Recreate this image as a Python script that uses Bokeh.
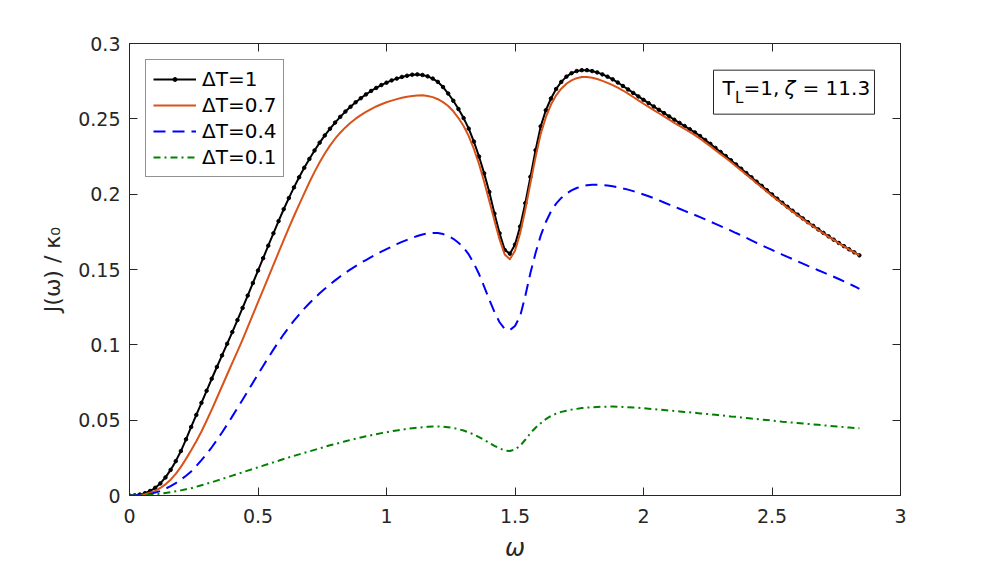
from bokeh.plotting import figure
from bokeh.models import (Range1d, LinearAxis, FixedTicker, Legend, LegendItem,
                          BoxAnnotation, Label)
from bokeh.embed import file_html
from bokeh.resources import INLINE

# frequency grid, step 0.02 from 0 to 2.84
omega = [round(0.02 * i, 2) for i in range(143)]

# J(omega)/kappa_0 for each temperature bias
j_dt_1 = [
    0.0000, 0.0001, 0.0006, 0.0015, 0.0030, 0.0051, 0.0080, 0.0120, 0.0170, 0.0228,
    0.0295, 0.0373, 0.0455, 0.0535, 0.0615, 0.0695, 0.0775, 0.0853, 0.0930, 0.1007,
    0.1085, 0.1164, 0.1245, 0.1327, 0.1410, 0.1493, 0.1575, 0.1658, 0.1740, 0.1821,
    0.1900, 0.1974, 0.2045, 0.2112, 0.2175, 0.2234, 0.2290, 0.2342, 0.2390, 0.2434,
    0.2475, 0.2513, 0.2548, 0.2580, 0.2610, 0.2637, 0.2662, 0.2685, 0.2705, 0.2724,
    0.2740, 0.2755, 0.2767, 0.2778, 0.2786, 0.2793, 0.2795, 0.2791, 0.2782, 0.2767,
    0.2745, 0.2711, 0.2668, 0.2620, 0.2565, 0.2505, 0.2435, 0.2349, 0.2250, 0.2138,
    0.2015, 0.1871, 0.1740, 0.1630, 0.1605, 0.1665, 0.1785, 0.1940, 0.2115, 0.2292,
    0.2450, 0.2557, 0.2635, 0.2698, 0.2745, 0.2780, 0.2803, 0.2817, 0.2823, 0.2823,
    0.2817, 0.2808, 0.2795, 0.2780, 0.2762, 0.2741, 0.2718, 0.2695, 0.2672, 0.2649,
    0.2626, 0.2604, 0.2582, 0.2560, 0.2538, 0.2516, 0.2494, 0.2473, 0.2452, 0.2431,
    0.2410, 0.2386, 0.2360, 0.2334, 0.2307, 0.2280, 0.2253, 0.2225, 0.2197, 0.2169,
    0.2140, 0.2112, 0.2083, 0.2055, 0.2026, 0.1998, 0.1970, 0.1943, 0.1916, 0.1890,
    0.1864, 0.1839, 0.1814, 0.1790, 0.1766, 0.1743, 0.1720, 0.1698, 0.1676, 0.1655,
    0.1634, 0.1614, 0.1594,
]
j_dt_07 = [
    0.0000, 0.0001, 0.0004, 0.0009, 0.0018, 0.0031, 0.0050, 0.0074, 0.0105, 0.0144,
    0.0190, 0.0243, 0.0300, 0.0360, 0.0425, 0.0496, 0.0570, 0.0647, 0.0725, 0.0803,
    0.0880, 0.0957, 0.1035, 0.1117, 0.1200, 0.1283, 0.1365, 0.1448, 0.1530, 0.1613,
    0.1695, 0.1776, 0.1855, 0.1931, 0.2005, 0.2079, 0.2148, 0.2212, 0.2270, 0.2322,
    0.2368, 0.2408, 0.2443, 0.2474, 0.2501, 0.2525, 0.2546, 0.2565, 0.2582, 0.2597,
    0.2610, 0.2621, 0.2631, 0.2640, 0.2647, 0.2652, 0.2655, 0.2656, 0.2652, 0.2644,
    0.2630, 0.2611, 0.2585, 0.2550, 0.2505, 0.2452, 0.2385, 0.2300, 0.2200, 0.2082,
    0.1955, 0.1826, 0.1700, 0.1600, 0.1568, 0.1625, 0.1740, 0.1897, 0.2074, 0.2246,
    0.2400, 0.2511, 0.2595, 0.2656, 0.2700, 0.2733, 0.2755, 0.2770, 0.2778, 0.2778,
    0.2773, 0.2764, 0.2752, 0.2739, 0.2724, 0.2707, 0.2688, 0.2667, 0.2645, 0.2622,
    0.2600, 0.2579, 0.2558, 0.2537, 0.2516, 0.2495, 0.2473, 0.2453, 0.2433, 0.2413,
    0.2392, 0.2369, 0.2344, 0.2319, 0.2292, 0.2266, 0.2240, 0.2213, 0.2185, 0.2158,
    0.2129, 0.2102, 0.2073, 0.2046, 0.2017, 0.1990, 0.1962, 0.1936, 0.1909, 0.1884,
    0.1858, 0.1834, 0.1809, 0.1786, 0.1762, 0.1740, 0.1717, 0.1696, 0.1674, 0.1654,
    0.1633, 0.1614, 0.1594,
]
j_dt_04 = [
    0.0000, 0.0001, 0.0002, 0.0005, 0.0010, 0.0019, 0.0030, 0.0045, 0.0062, 0.0082,
    0.0105, 0.0131, 0.0160, 0.0196, 0.0235, 0.0276, 0.0320, 0.0368, 0.0418, 0.0471,
    0.0525, 0.0580, 0.0635, 0.0691, 0.0748, 0.0804, 0.0860, 0.0915, 0.0968, 0.1020,
    0.1070, 0.1116, 0.1160, 0.1201, 0.1240, 0.1276, 0.1310, 0.1342, 0.1372, 0.1401,
    0.1428, 0.1454, 0.1478, 0.1501, 0.1523, 0.1544, 0.1563, 0.1582, 0.1600, 0.1618,
    0.1635, 0.1652, 0.1668, 0.1683, 0.1697, 0.1710, 0.1722, 0.1732, 0.1740, 0.1743,
    0.1742, 0.1735, 0.1722, 0.1704, 0.1678, 0.1644, 0.1600, 0.1541, 0.1470, 0.1386,
    0.1300, 0.1218, 0.1150, 0.1105, 0.1098, 0.1125, 0.1190, 0.1324, 0.1477, 0.1609,
    0.1725, 0.1815, 0.1885, 0.1937, 0.1975, 0.2004, 0.2025, 0.2041, 0.2052, 0.2059,
    0.2062, 0.2062, 0.2060, 0.2057, 0.2052, 0.2046, 0.2038, 0.2030, 0.2020, 0.2009,
    0.1998, 0.1986, 0.1973, 0.1959, 0.1945, 0.1931, 0.1917, 0.1903, 0.1889, 0.1875,
    0.1862, 0.1848, 0.1833, 0.1818, 0.1803, 0.1788, 0.1773, 0.1758, 0.1742, 0.1727,
    0.1711, 0.1694, 0.1676, 0.1661, 0.1645, 0.1630, 0.1614, 0.1599, 0.1584, 0.1569,
    0.1554, 0.1539, 0.1524, 0.1510, 0.1495, 0.1481, 0.1466, 0.1452, 0.1437, 0.1421,
    0.1405, 0.1389, 0.1372,
]
j_dt_01 = [
    0.0000, 0.0000, 0.0001, 0.0003, 0.0005, 0.0008, 0.0012, 0.0017, 0.0022, 0.0028,
    0.0034, 0.0041, 0.0048, 0.0058, 0.0068, 0.0078, 0.0088, 0.0099, 0.0110, 0.0121,
    0.0132, 0.0143, 0.0154, 0.0165, 0.0176, 0.0187, 0.0198, 0.0209, 0.0220, 0.0231,
    0.0242, 0.0253, 0.0263, 0.0273, 0.0283, 0.0293, 0.0303, 0.0313, 0.0323, 0.0333,
    0.0342, 0.0351, 0.0360, 0.0369, 0.0377, 0.0385, 0.0393, 0.0400, 0.0407, 0.0414,
    0.0420, 0.0426, 0.0432, 0.0437, 0.0442, 0.0446, 0.0450, 0.0453, 0.0456, 0.0458,
    0.0458, 0.0456, 0.0453, 0.0448, 0.0441, 0.0431, 0.0419, 0.0404, 0.0388, 0.0369,
    0.0350, 0.0330, 0.0312, 0.0299, 0.0295, 0.0305, 0.0330, 0.0370, 0.0414, 0.0450,
    0.0480, 0.0507, 0.0528, 0.0543, 0.0555, 0.0563, 0.0570, 0.0575, 0.0580, 0.0583,
    0.0586, 0.0588, 0.0589, 0.0590, 0.0590, 0.0589, 0.0588, 0.0586, 0.0584, 0.0582,
    0.0579, 0.0576, 0.0573, 0.0570, 0.0567, 0.0564, 0.0561, 0.0558, 0.0555, 0.0552,
    0.0549, 0.0545, 0.0542, 0.0539, 0.0536, 0.0532, 0.0529, 0.0525, 0.0522, 0.0518,
    0.0515, 0.0511, 0.0508, 0.0504, 0.0501, 0.0497, 0.0494, 0.0490, 0.0487, 0.0484,
    0.0481, 0.0478, 0.0475, 0.0472, 0.0469, 0.0466, 0.0463, 0.0460, 0.0457, 0.0454,
    0.0451, 0.0448, 0.0446,
]

series_labels = ["ΔT=1", "ΔT=0.7", "ΔT=0.4", "ΔT=0.1"]

x_ticks = [0, 0.5, 1, 1.5, 2, 2.5, 3]
x_tick_labels = ["0", "0.5", "1", "1.5", "2", "2.5", "3"]
y_ticks = [0, 0.05, 0.1, 0.15, 0.2, 0.25, 0.3]
y_tick_labels = ["0", "0.05", "0.1", "0.15", "0.2", "0.25", "0.3"]

AXIS_COLOR = "#262626"
FONT = "DejaVu Sans"

p = figure(frame_width=771, frame_height=452,
           min_border_left=129, min_border_right=96,
           min_border_top=43, min_border_bottom=78,
           x_range=Range1d(0, 3), y_range=Range1d(0, 0.3),
           output_backend="svg", toolbar_location=None)
p.xgrid.visible = False
p.ygrid.visible = False
p.outline_line_color = AXIS_COLOR
p.outline_line_width = 1
p.background_fill_color = "white"
p.border_fill_color = "white"


def style_axis(ax, ticks, labels, show_labels=True):
    ax.ticker = FixedTicker(ticks=ticks)
    ax.major_label_overrides = dict(zip(ticks, labels))
    ax.major_tick_in = 8
    ax.major_tick_out = 0
    ax.minor_tick_in = 0
    ax.minor_tick_out = 0
    ax.axis_line_color = AXIS_COLOR
    ax.major_tick_line_color = AXIS_COLOR
    ax.major_label_text_font = FONT
    ax.major_label_text_font_size = "19px"
    # the mirrored axes on the top and right carry ticks only
    ax.major_label_text_color = AXIS_COLOR if show_labels else None


xax = p.xaxis[0]
yax = p.yaxis[0]
style_axis(xax, x_ticks, x_tick_labels)
style_axis(yax, y_ticks, y_tick_labels)
xax.major_label_standoff = 13
yax.major_label_standoff = 9

xax.axis_label = "ω"
xax.axis_label_text_font = FONT
xax.axis_label_text_font_style = "italic"
xax.axis_label_text_font_size = "24px"
xax.axis_label_text_color = AXIS_COLOR
xax.axis_label_standoff = 8

yax.axis_label = "J(ω) / κ₀"
yax.axis_label_text_font = FONT
yax.axis_label_text_font_style = "normal"
yax.axis_label_text_font_size = "22px"
yax.axis_label_text_color = AXIS_COLOR
yax.axis_label_standoff = 10

top_ax = LinearAxis()
style_axis(top_ax, x_ticks, x_tick_labels, show_labels=False)
p.add_layout(top_ax, "above")
right_ax = LinearAxis()
style_axis(right_ax, y_ticks, y_tick_labels, show_labels=False)
p.add_layout(right_ax, "right")

# curves
r1 = p.line(omega, j_dt_1, line_color="black", line_width=2, line_join="round")
m1 = p.scatter(omega, j_dt_1, size=3.5, fill_color="black", line_color="black")
r2 = p.line(omega, j_dt_07, line_color="#D95319", line_width=2, line_join="round")
r3 = p.line(omega, j_dt_04, line_color="#0000FF", line_width=2,
            line_dash="12 7", line_join="round")
r4 = p.line(omega, j_dt_01, line_color="#008000", line_width=2,
            line_dash="7 4 2 4", line_join="round")

legend = Legend(items=[
    LegendItem(label=series_labels[0], renderers=[r1, m1]),
    LegendItem(label=series_labels[1], renderers=[r2]),
    LegendItem(label=series_labels[2], renderers=[r3]),
    LegendItem(label=series_labels[3], renderers=[r4]),
], location="top_left", margin=16)
legend.label_text_font = FONT
legend.label_text_font_size = "20px"
legend.label_text_color = "black"
legend.glyph_width = 43
legend.glyph_height = 10
legend.label_height = 20
legend.label_standoff = 6
legend.spacing = 2
legend.padding = 7
legend.border_line_color = AXIS_COLOR
legend.border_line_width = 1
legend.background_fill_color = "white"
legend.background_fill_alpha = 1
p.add_layout(legend)

# parameter box in the upper right: T_L=1, zeta = 11.3
p.add_layout(BoxAnnotation(left=2.2724, right=2.8988, top=0.2823, bottom=0.2531,
                           fill_color="white", fill_alpha=1,
                           line_color=AXIS_COLOR, line_width=1, line_alpha=1))
box_parts = [
    ("T", 2.3074, 0.2703, "20px", "normal"),
    ("L", 2.3556, 0.2637, "15px", "normal"),
    ("=1,", 2.3891, 0.2703, "20px", "normal"),
    ("ζ", 2.5486, 0.2703, "20px", "italic"),
    ("= 11.3", 2.6187, 0.2703, "20px", "normal"),
]
for txt, lx, ly, fs, style in box_parts:
    p.add_layout(Label(x=lx, y=ly, text=txt, text_font=FONT,
                       text_font_size=fs, text_font_style=style,
                       text_baseline="middle", text_align="left",
                       text_color="black"))

open("out.html", "w").write(file_html(p, INLINE))
